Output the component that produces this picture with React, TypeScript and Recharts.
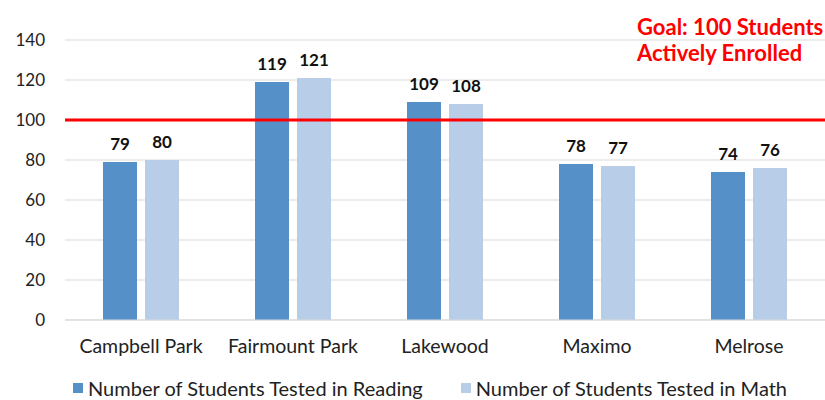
import React from "react";
import {
  BarChart, Bar, XAxis, YAxis, CartesianGrid, ReferenceLine, Legend, LabelList,
} from "recharts";

const schools = ["Campbell Park", "Fairmount Park", "Lakewood", "Maximo", "Melrose"];
const reading = [79, 119, 109, 78, 74];
const math = [80, 121, 108, 77, 76];
const yTicks = [0, 20, 40, 60, 80, 100, 120, 140];
const goal = 100;

const data = schools.map((name, i) => ({ name, reading: reading[i], math: math[i] }));

const FONT = "Lato, 'Open Sans', sans-serif";
const READING = "#5690c8";
const MATH = "#b8cde7";

const GoalLabel = (props: any) => {
  const vb = props.viewBox || {};
  const x = vb.x + vb.width - 188;
  return (
    <g>
      <text x={x} y={vb.y - 85} fill="#ff0000" fontWeight="bold" fontSize={22} fontFamily={FONT}>
        Goal: 100 Students
      </text>
      <text x={x} y={vb.y - 59} fill="#ff0000" fontWeight="bold" fontSize={22} fontFamily={FONT}>
        Actively Enrolled
      </text>
    </g>
  );
};

const legendItems = [
  { label: "Number of Students Tested in Reading", color: READING },
  { label: "Number of Students Tested in Math", color: MATH },
];

const LegendBox = () => (
  <div style={{ display: "flex", alignItems: "center", fontFamily: FONT, fontSize: 20, color: "#222", lineHeight: "20px" }}>
    {legendItems.map((it, i) => (
      <div key={i} style={{ display: "flex", alignItems: "center", marginRight: 38 }}>
        <span style={{ display: "inline-block", width: 10, height: 10, background: it.color, marginRight: 5 }} />
        <span>{it.label}</span>
      </div>
    ))}
  </div>
);

export default function App() {
  return (
    <div style={{ position: "absolute", left: 0, top: 0, width: 825, height: 400, background: "#fff", fontFamily: FONT }}>
      <BarChart
        width={825}
        height={400}
        data={data}
        margin={{ top: 40, right: 0, left: 0, bottom: 0 }}
        barCategoryGap="25%"
        barGap={8}
      >
        <CartesianGrid vertical={false} stroke="#d9d9d9" />
        <XAxis
          dataKey="name"
          tickLine={false}
          axisLine={{ stroke: "#d9d9d9" }}
          tick={{ fontSize: 19.5, fill: "#222", fontFamily: FONT }}
          tickMargin={13}
          height={40}
        />
        <YAxis
          domain={[0, 140]}
          ticks={yTicks}
          width={65}
          tickLine={false}
          axisLine={false}
          tickSize={0}
          tickMargin={20}
          tick={{ fontSize: 17, fill: "#222", fontFamily: FONT }}
        />
        <Legend
          verticalAlign="bottom"
          align="left"
          height={40}
          content={<LegendBox />}
          wrapperStyle={{ left: 73, top: 378 }}
        />
        <Bar dataKey="reading" name="Number of Students Tested in Reading" fill={READING} isAnimationActive={false}>
          <LabelList dataKey="reading" position="top" offset={12} fill="#111" fontSize={17} fontWeight="bold" fontFamily={FONT} />
        </Bar>
        <Bar dataKey="math" name="Number of Students Tested in Math" fill={MATH} isAnimationActive={false}>
          <LabelList dataKey="math" position="top" offset={12} fill="#111" fontSize={17} fontWeight="bold" fontFamily={FONT} />
        </Bar>
        <ReferenceLine y={goal} stroke="#ff0000" strokeWidth={3} ifOverflow="visible" label={<GoalLabel />} />
      </BarChart>
    </div>
  );
}
